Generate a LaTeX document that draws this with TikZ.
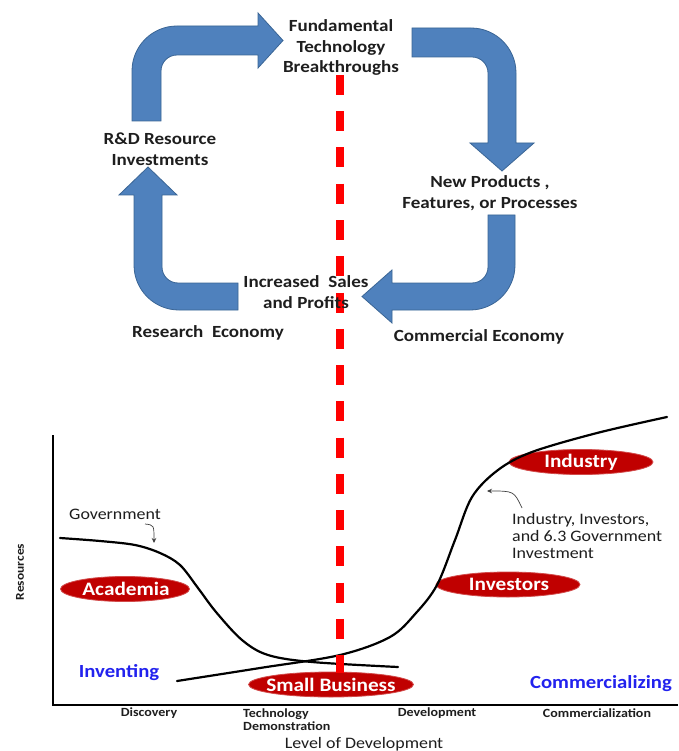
\documentclass[tikz,border=0pt]{standalone}
\usepackage{fontspec}
\setmainfont{Carlito}[FakeStretch=1.12]
\usetikzlibrary{arrows.meta}
\definecolor{arrowblue}{HTML}{4F81BD}
\definecolor{arrowedge}{HTML}{3A6595}
\definecolor{ellred}{HTML}{C00000}
\definecolor{elledge}{HTML}{D24A4A}
\definecolor{txtblue}{HTML}{2222EE}
\definecolor{txtdark}{HTML}{1E1E1E}
\tikzset{
  blockarrow/.style={fill=arrowblue, draw=arrowedge, line width=0.8pt, line join=miter},
  toplabel/.style={font=\bfseries\fontsize{17}{20.5}\selectfont, text=txtdark, align=center, inner sep=0pt},
  ovaltext/.style={font=\bfseries\fontsize{19}{20}\selectfont, text=white, inner sep=0pt},
  oval/.style={fill=ellred, draw=elledge, line width=0.8pt},
  ticklabel/.style={font=\bfseries\fontsize{12.5}{13}\selectfont, text=txtdark, inner sep=0pt},
  phase/.style={font=\bfseries\fontsize{18.5}{20}\selectfont, text=txtblue, inner sep=0pt},
  curve/.style={line width=2.2pt, black, line cap=round},
  note/.style={font=\fontsize{16}{17}\selectfont, text=txtdark, inner sep=0pt},
  pointer/.style={-{Stealth[length=5pt,width=4.5pt]}, line width=0.7pt, txtdark!85},
  divider/.style={draw=red, line width=8pt, dash pattern=on 20pt off 16.25pt}
}
\begin{document}
\begin{tikzpicture}[x=1pt,y=1pt,yscale=-1]
\useasboundingbox (0,0) rectangle (678,751);
\fill[white] (0,0) rectangle (678,751);

% ---- block arrows (cycle) ----
\draw[blockarrow] (132,121) -- (132,71) arc[start angle=180,end angle=270,radius=45]
  -- (258,26) -- (258,13) -- (283,40.5) -- (258,68) -- (258,55) -- (177,55)
  arc[start angle=270,end angle=180,radius=16] -- (161,121) -- cycle;
\draw[blockarrow] (412,28) -- (471,28) arc[start angle=270,end angle=360,radius=45]
  -- (516,143) -- (534,143) -- (502,171) -- (470,143) -- (488,143) -- (488,73)
  arc[start angle=0,end angle=-90,radius=16] -- (412,57) -- cycle;
\draw[blockarrow] (488,215) -- (515,215) -- (515,265) arc[start angle=0,end angle=90,radius=45]
  -- (392,310) -- (392,323) -- (362,296.5) -- (392,270) -- (392,283) -- (472,283)
  arc[start angle=90,end angle=0,radius=16] -- cycle;
\draw[blockarrow] (238,283) -- (238,310) -- (179,310) arc[start angle=90,end angle=180,radius=45]
  -- (134,195) -- (119,195) -- (148,167) -- (177,195) -- (162,195) -- (162,267)
  arc[start angle=180,end angle=90,radius=16] -- cycle;

% ---- plot axes ----
\draw[line width=1.5pt, black] (53,435) -- (53,705) -- (678,705);

% ---- ovals ----
\fill[oval] (125,589) ellipse [x radius=64.5, y radius=12.5];
\fill[oval] (331,684.5) ellipse [x radius=82.5, y radius=12.5];
\fill[oval] (508,584.5) ellipse [x radius=72, y radius=12.5];
\fill[oval] (581,462) ellipse [x radius=72, y radius=12.5];

% ---- curves ----
\draw[curve] plot[smooth, tension=0.55] coordinates {(60,538) (100,541) (135,545) (160,553) (180,565) (198,588) (216,612) (242,640) (268,655) (312,662) (398,667)};
\draw[curve] plot[smooth, tension=0.55] coordinates {(177,681) (260,668) (340,655) (390,637) (416,613) (437,585) (455,540) (472,497) (498,470) (532,452) (597,433) (667,417)};

% ---- red divider ----
\draw[divider] (340,75) -- (340,673);

% ---- cycle labels ----
\node[toplabel] (breakthroughs) at (341,47.5) {Fundamental\\Technology\\Breakthroughs};
\node[toplabel] (products) at (490,193) {New Products ,\\Features, or Processes};
\node[toplabel] (sales) at (306,292) {Increased\ \ Sales\\and Profits};
\node[toplabel] (rnd) at (160,149) {R\&D Resource\\Investments};
\node[toplabel] (research) at (208,333) {Research\ \ Economy};
\node[toplabel] (commercial) at (479,337) {Commercial Economy};

% ---- oval texts ----
\node[ovaltext] (academia) at (126,589) {Academia};
\node[ovaltext] (smallbiz) at (331,684.5) {Small Business};
\node[ovaltext] (investors) at (509,584.5) {Investors};
\node[ovaltext] (industry) at (581,462) {Industry};

% ---- phase texts ----
\node[phase] (inventing) at (119,673) {Inventing};
\node[phase] (commercializing) at (601,684) {Commercializing};

% ---- notes ----
\node[note, anchor=west] (government) at (69,514) {Government};
\node[note, anchor=west, align=left] (industrynote) at (512,536) {Industry, Investors,\\and 6.3 Government\\Investment};
\coordinate (govtail) at (145,524);
\coordinate (govhead) at (154,543);
\draw[pointer] (govtail) .. controls (154,525) .. (govhead);
\coordinate (indtail) at (522,508);
\coordinate (indhead) at (487,491);
\draw[pointer] (indtail) .. controls (514,491) .. (indhead);

% ---- axis labels ----
\node[ticklabel] (discovery) at (149,713) {Discovery};
\node[ticklabel, anchor=west, align=left] (techdemo) at (243,719.5) {Technology\\Demonstration};
\node[ticklabel] (development) at (437,713) {Development};
\node[ticklabel] (commercialization) at (597,713) {Commercialization};
\node[note] (xlabel) at (364,744) {Level of Development};
\node[ticklabel, font=\bfseries\fontsize{12}{13}\selectfont, rotate=90] (ylabel) at (20,572) {Resources};
\end{tikzpicture}
\end{document}
